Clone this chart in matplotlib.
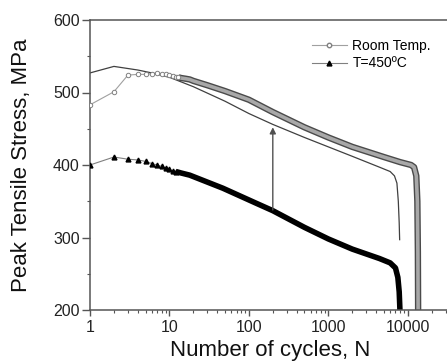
import matplotlib
matplotlib.use('Agg')
import matplotlib.pyplot as plt
import matplotlib.patheffects as pe
from matplotlib.ticker import LogLocator, FixedLocator, MultipleLocator
from matplotlib.lines import Line2D

plt.rcParams['font.family'] = ['Liberation Sans', 'DejaVu Sans']

# Room temperature: discrete early cycles, then the dense band of per-cycle points
rt_n = [1, 2, 3, 4, 5, 6, 7, 8, 9, 10, 11, 12, 13, 14, 16, 18, 20,
        30, 50, 100, 200, 500, 1000, 2000, 5000, 8000, 11000, 12000, 12800, 13200, 13400, 13500]
rt_s = [483, 501, 524, 525, 525, 526, 527, 526, 525, 524, 523, 522, 521, 520, 519, 518, 516,
        510, 502, 490, 473, 452, 438, 425, 411, 404, 400, 397, 385, 350, 280, 195]
rt_marked = 13  # points drawn one by one with markers

# unmarked thin curve
fit_n = [1, 2, 4, 6, 10, 20, 50, 100, 200, 500, 1000, 2000, 4400, 6000, 6800, 7300, 7600, 7800, 7900]
fit_s = [527, 536, 531, 527, 521, 508, 488, 471, 456, 438, 425, 412, 397, 391, 385, 375, 350, 320, 297]

# T = 450 C
ht_n = [1, 2, 3, 4, 5, 6, 7, 8, 9, 10, 11, 12, 13, 14,
        18, 47, 125, 200, 500, 1000, 2000, 4400, 6000, 7000, 7500, 7800, 8000]
ht_s = [400, 411, 408, 407, 405, 402, 400, 398, 396, 394, 392, 391, 390, 389,
        386, 368, 347, 337, 314, 298, 284, 271, 265, 258, 245, 225, 195]
ht_marked = 12

arrow_n = 200
arrow_from = 338
arrow_to = 452

fig = plt.figure(figsize=(4.47, 3.62), dpi=100)
ax = fig.add_axes([90 / 447, 52 / 362, 361 / 447, 290 / 362])

# room temp
ax.plot(rt_n[:rt_marked + 1], rt_s[:rt_marked + 1], '-', color='#a0a0a0', lw=0.8, zorder=2)
ax.plot(rt_n[:rt_marked], rt_s[:rt_marked], 'o', ms=3.2, mfc='white', mec='#808080', mew=0.7, zorder=3)
ax.plot(rt_n[rt_marked - 1:], rt_s[rt_marked - 1:], '-', color='#a8a8a8', lw=2.6,
        solid_capstyle='butt', zorder=2,
        path_effects=[pe.Stroke(linewidth=4.6, foreground='#4a4a4a'), pe.Normal()])

# thin curve
ax.plot(fit_n, fit_s, '-', color='#404040', lw=0.9, zorder=2)

# 450 C
ax.plot(ht_n[:ht_marked + 1], ht_s[:ht_marked + 1], '-', color='#808080', lw=0.8, zorder=2)
ax.plot(ht_n[:ht_marked], ht_s[:ht_marked], '^', ms=3.5, color='black', zorder=3)
ax.plot(ht_n[ht_marked - 1:], ht_s[ht_marked - 1:], '-', color='black', lw=4.0,
        solid_capstyle='butt', zorder=2)

ax.annotate('', xy=(arrow_n, arrow_to), xytext=(arrow_n, arrow_from),
            arrowprops=dict(arrowstyle='-|>', color='#505050', lw=1.0, mutation_scale=9,
                            shrinkA=0, shrinkB=0))

ax.set_xscale('log')
ax.set_xlim(1, 35000)
ax.set_ylim(200, 600)
ax.xaxis.set_major_locator(FixedLocator([1, 10, 100, 1000, 10000]))
ax.xaxis.set_minor_locator(LogLocator(base=10, subs=range(2, 10), numticks=20))
ax.set_xticklabels(['1', '10', '100', '1000', '10000'])
ax.yaxis.set_major_locator(MultipleLocator(100))
ax.yaxis.set_minor_locator(MultipleLocator(50))

for s in ['left', 'top', 'bottom', 'right']:
    ax.spines[s].set_color('#555555')
    ax.spines[s].set_linewidth(1.1)
ax.tick_params(which='major', direction='out', colors='#555555', labelcolor='#222222',
               labelsize=11.5, width=1.0)
ax.tick_params(axis='y', which='major', length=6, pad=1.5)
ax.tick_params(axis='x', which='major', length=4, pad=3)
ax.tick_params(which='minor', direction='out', colors='#555555', length=2.5, width=0.8)

ax.set_xlabel('Number of cycles, N', fontsize=16, color='#111111', labelpad=4)
ax.set_ylabel('Peak Tensile Stress, MPa', fontsize=16, color='#111111', labelpad=15)

handles = [Line2D([], [], color='#a0a0a0', lw=0.8, marker='o', ms=3.2, mfc='white', mec='#808080'),
           Line2D([], [], color='#808080', lw=0.8, marker='^', ms=3.5, mfc='black', mec='black')]
ax.legend(handles, ['Room Temp.', 'T=450\u00baC'], loc='upper left',
          bbox_to_anchor=((312 - 90) / 361, (310 - 39) / 290), frameon=False,
          fontsize=10, handlelength=2.5, handletextpad=0.4, labelspacing=0.25,
          borderpad=0, borderaxespad=0, numpoints=1)

fig.savefig('out.png', dpi=100)
